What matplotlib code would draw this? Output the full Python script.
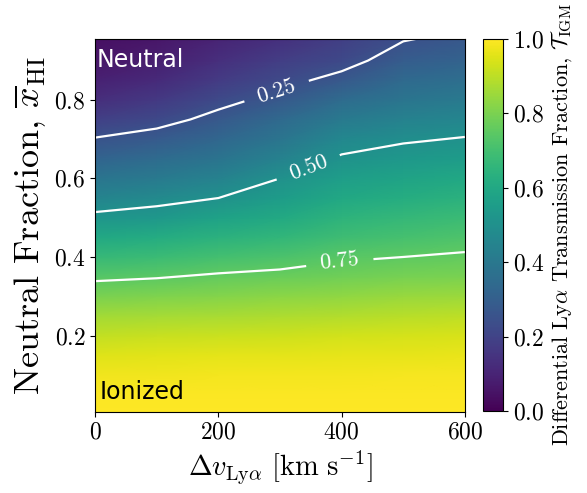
import numpy as np
import matplotlib
matplotlib.use("Agg")
import matplotlib.pyplot as plt

plt.rcParams['font.family'] = 'serif'
plt.rcParams['font.serif'] = ['cmr10']
plt.rcParams['mathtext.fontset'] = 'cm'
plt.rcParams['axes.formatter.use_mathtext'] = True

# velocity offsets [km/s] and neutral fractions of the grid nodes
dv_lya = np.array([0, 100, 200, 300, 400, 500, 600])
x_hi = np.array([0.005, 0.05, 0.10, 0.15, 0.20, 0.25, 0.30, 0.35, 0.40, 0.45,
                 0.50, 0.55, 0.60, 0.65, 0.70, 0.75, 0.80, 0.85, 0.90, 0.955])

# differential Lya transmission, one list per velocity offset (bottom -> top in x_HI)
T_dv0 = [1.000, 0.995, 0.980, 0.950, 0.910, 0.860, 0.800, 0.735, 0.670, 0.600,
         0.520, 0.450, 0.390, 0.320, 0.255, 0.190, 0.130, 0.090, 0.060, 0.040]
T_dv100 = [1.000, 0.995, 0.980, 0.955, 0.915, 0.865, 0.805, 0.745, 0.680, 0.615,
           0.535, 0.475, 0.410, 0.350, 0.285, 0.220, 0.165, 0.120, 0.085, 0.060]
T_dv200 = [1.000, 0.995, 0.982, 0.958, 0.920, 0.870, 0.815, 0.760, 0.700, 0.640,
           0.575, 0.500, 0.440, 0.385, 0.330, 0.275, 0.225, 0.175, 0.135, 0.100]
T_dv300 = [1.000, 0.995, 0.983, 0.960, 0.925, 0.875, 0.825, 0.770, 0.715, 0.660,
           0.605, 0.550, 0.500, 0.445, 0.390, 0.340, 0.275, 0.225, 0.180, 0.140]
T_dv400 = [1.000, 0.995, 0.984, 0.962, 0.930, 0.885, 0.835, 0.785, 0.740, 0.690,
           0.645, 0.600, 0.555, 0.510, 0.465, 0.410, 0.350, 0.275, 0.220, 0.185]
T_dv500 = [1.000, 0.995, 0.985, 0.964, 0.935, 0.893, 0.845, 0.795, 0.750, 0.705,
           0.665, 0.620, 0.580, 0.535, 0.490, 0.440, 0.390, 0.340, 0.290, 0.245]
T_dv600 = [1.000, 0.995, 0.985, 0.965, 0.940, 0.900, 0.850, 0.800, 0.760, 0.720,
           0.680, 0.640, 0.600, 0.550, 0.505, 0.460, 0.410, 0.360, 0.315, 0.270]

contour_levels = [0.25, 0.50, 0.75]

T_igm = np.column_stack([T_dv0, T_dv100, T_dv200, T_dv300, T_dv400, T_dv500, T_dv600])

fig = plt.figure(figsize=(5.87, 4.93), dpi=100)
ax = fig.add_axes([0.162, 0.164, 0.630, 0.757])
cax = fig.add_axes([0.823, 0.166, 0.034, 0.755])

mesh = ax.pcolormesh(dv_lya, x_hi, T_igm, cmap='viridis', vmin=0, vmax=1,
                     shading='gouraud', rasterized=True)
cs = ax.contour(dv_lya, x_hi, T_igm, levels=contour_levels, colors='white',
                linewidths=1.6)
ax.clabel(cs, fmt='%.2f', fontsize=16, inline=True, inline_spacing=14,
          manual=[(297, 0.81), (349, 0.615), (397, 0.387)])

ax.set_xlim(0, 600)
ax.set_ylim(0.005, 0.955)
ax.set_xticks([0, 200, 400, 600])
ax.set_yticks([0.2, 0.4, 0.6, 0.8])
ax.tick_params(labelsize=17)

ax.set_xlabel(r'$\Delta v_{\mathrm{Ly}\alpha}\ [\mathrm{km\ s}^{-1}]$', fontsize=20.5)
ax.set_ylabel(r'Neutral Fraction, $\overline{x}_{\mathrm{HI}}$', fontsize=26)

ax.text(0.005, 0.975, 'Neutral', transform=ax.transAxes, color='white',
        fontsize=17, family='DejaVu Sans', ha='left', va='top')
ax.text(0.012, 0.035, 'Ionized', transform=ax.transAxes, color='black',
        fontsize=17, family='DejaVu Sans', ha='left', va='baseline')

cb = fig.colorbar(mesh, cax=cax, ticks=[0.0, 0.2, 0.4, 0.6, 0.8, 1.0])
cb.ax.tick_params(labelsize=17)
cb.set_label(r'Differential Ly$\alpha$ Transmission Fraction, $\mathcal{T}_{\mathrm{IGM}}$',
             fontsize=16)

fig.savefig('out.png', dpi=100)
